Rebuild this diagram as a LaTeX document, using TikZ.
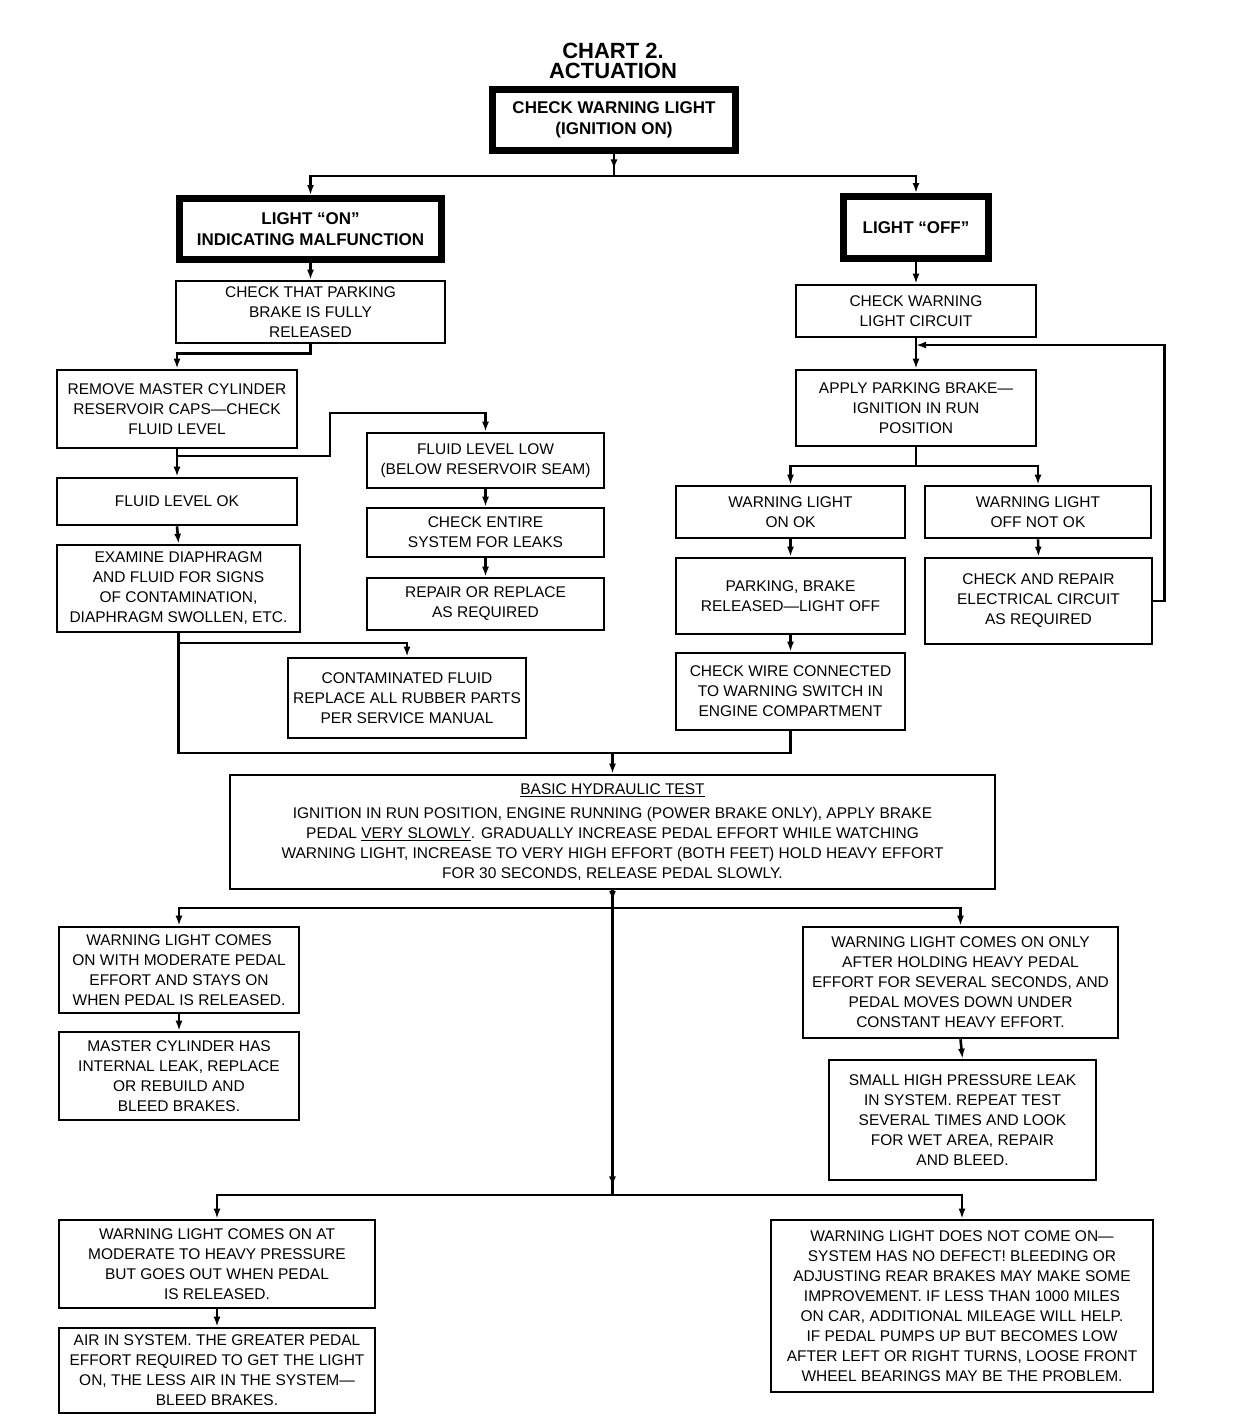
\documentclass[tikz,border=0pt]{standalone}
\usepackage{fontspec}
\setmainfont{Liberation Sans}
\usetikzlibrary{arrows.meta,decorations.markings}
\newcommand\mybox[7][thinbox]{%
  \node[#1, minimum width={(#5-#3)*1pt}, minimum height={(#6-#4)*1pt}] (#2) at ({(#3+#5)/2},{(#4+#6)/2}) {#7};}
\begin{document}
\begin{tikzpicture}[x=1pt,y=-1pt,
  thinbox/.style={draw, line width=2.6pt, inner sep=1pt, align=center, font=\fontsize{15.5}{20}\selectfont},
  thickbox/.style={draw, line width=7pt, inner sep=1pt, align=center, font=\fontsize{17}{21}\selectfont\bfseries},
  ln/.style={line width=2.6pt},
  arr/.style={line width=2.6pt, -{Latex[length=10pt,width=7pt]}},
  midarr/.style={postaction={decorate}, decoration={markings, mark=at position #1 with {\arrow{Latex[length=10pt,width=7pt]}}}},
  ttl/.style={font=\fontsize{22}{20}\selectfont\bfseries, inner sep=0pt, align=center}]
\fill[white] (0,0) rectangle (1248,1428);
\useasboundingbox (0,0) rectangle (1248,1428);

\node[ttl] (title) at (613,61) {CHART 2.\\ACTUATION};

\mybox[thickbox]{A}{492.5}{89.5}{735.5}{150.5}{CHECK WARNING LIGHT\\(IGNITION ON)}
\mybox[thickbox]{B}{179.5}{198.5}{441.5}{259.5}{LIGHT ``ON''\\INDICATING MALFUNCTION}
\mybox[thickbox]{C}{843.5}{196.5}{988.5}{258.5}{LIGHT ``OFF''}

\mybox{D}{176}{281}{445}{343}{CHECK THAT PARKING\\BRAKE IS FULLY\\RELEASED}
\mybox{E}{57}{370}{297}{448}{REMOVE MASTER CYLINDER\\RESERVOIR CAPS—CHECK\\FLUID LEVEL}
\mybox{F}{57}{478}{297}{525}{FLUID LEVEL OK}
\mybox{G}{367}{433}{604}{488}{FLUID LEVEL LOW\\(BELOW RESERVOIR SEAM)}
\mybox{H}{367}{508}{604}{557}{CHECK ENTIRE\\SYSTEM FOR LEAKS}
\mybox{I}{367}{578}{604}{630}{REPAIR OR REPLACE\\AS REQUIRED}
\mybox{J}{57}{545}{300}{632}{EXAMINE DIAPHRAGM\\AND FLUID FOR SIGNS\\OF CONTAMINATION,\\DIAPHRAGM SWOLLEN, ETC.}
\mybox{K}{288}{658}{526}{738}{CONTAMINATED FLUID\\REPLACE ALL RUBBER PARTS\\PER SERVICE MANUAL}

\mybox{L}{796}{285}{1036}{337}{CHECK WARNING\\LIGHT CIRCUIT}
\mybox{M}{796}{370}{1036}{446}{APPLY PARKING BRAKE—\\IGNITION IN RUN\\POSITION}
\mybox{N1}{676}{486}{905}{538}{WARNING LIGHT\\ON OK}
\mybox{O1}{925}{486}{1151}{538}{WARNING LIGHT\\OFF NOT OK}
\mybox{N2}{676}{558}{905}{634}{PARKING, BRAKE\\RELEASED—LIGHT OFF}
\mybox{O2}{925}{558}{1152}{644}{CHECK AND REPAIR\\ELECTRICAL CIRCUIT\\AS REQUIRED}
\mybox{N3}{676}{653}{905}{730}{CHECK WIRE CONNECTED\\TO WARNING SWITCH IN\\ENGINE COMPARTMENT}

\mybox{T}{230}{775}{995}{889}{\underline{BASIC HYDRAULIC TEST}\\[4pt]IGNITION IN RUN POSITION, ENGINE RUNNING (POWER BRAKE ONLY), APPLY BRAKE\\PEDAL \underline{VERY SLOWLY}. GRADUALLY INCREASE PEDAL EFFORT WHILE WATCHING\\WARNING LIGHT, INCREASE TO VERY HIGH EFFORT (BOTH FEET) HOLD HEAVY EFFORT\\FOR 30 SECONDS, RELEASE PEDAL SLOWLY.}

\mybox{P1}{59}{927}{299}{1013}{WARNING LIGHT COMES\\ON WITH MODERATE PEDAL\\EFFORT AND STAYS ON\\WHEN PEDAL IS RELEASED.}
\mybox{P2}{59}{1032}{299}{1120}{MASTER CYLINDER HAS\\INTERNAL LEAK, REPLACE\\OR REBUILD AND\\BLEED BRAKES.}
\mybox{Q1}{803}{927}{1118}{1038}{WARNING LIGHT COMES ON ONLY\\AFTER HOLDING HEAVY PEDAL\\EFFORT FOR SEVERAL SECONDS, AND\\PEDAL MOVES DOWN UNDER\\CONSTANT HEAVY EFFORT.}
\mybox{Q2}{829}{1060}{1096}{1180}{SMALL HIGH PRESSURE LEAK\\IN SYSTEM. REPEAT TEST\\SEVERAL TIMES AND LOOK\\FOR WET AREA, REPAIR\\AND BLEED.}
\mybox{R1}{59}{1220}{375}{1308}{WARNING LIGHT COMES ON AT\\MODERATE TO HEAVY PRESSURE\\BUT GOES OUT WHEN PEDAL\\IS RELEASED.}
\mybox{R2}{59}{1328}{375}{1413}{AIR IN SYSTEM. THE GREATER PEDAL\\EFFORT REQUIRED TO GET THE LIGHT\\ON, THE LESS AIR IN THE SYSTEM—\\BLEED BRAKES.}
\mybox{S1}{771}{1220}{1153}{1392}{WARNING LIGHT DOES NOT COME ON—\\SYSTEM HAS NO DEFECT! BLEEDING OR\\ADJUSTING REAR BRAKES MAY MAKE SOME\\IMPROVEMENT. IF LESS THAN 1000 MILES\\ON CAR, ADDITIONAL MILEAGE WILL HELP.\\IF PEDAL PUMPS UP BUT BECOMES LOW\\AFTER LEFT OR RIGHT TURNS, LOOSE FRONT\\WHEEL BEARINGS MAY BE THE PROBLEM.}

% connectors
\coordinate (a1) at (614,176);
\draw[ln, midarr=0.7] (A.south) -- (a1);
\draw[arr] (a1) -| (B.north);
\draw[arr] (a1) -| (C.north);

\draw[arr] (B.south) -- (D.north);
\draw[arr] (D.south) -- ++(0,9) -| (E.north);
\draw[arr] (E.south) -- (F.north);
\coordinate (e1) at (177,456);
\coordinate (e2) at (330,413);
\draw[arr] (e1) -| (e2) -| (G.north);
\draw[arr] (F.south) -- (J.north);
\draw[arr] (G.south) -- (H.north);
\draw[arr] (H.south) -- (I.north);

\coordinate (jm) at (612.5,753);
\coordinate (k0) at (178.5,643);
\draw[ln] (J.south) |- (jm);
\draw[arr] (k0) -| (K.north);
\draw[ln] (N3.south) |- (jm);
\draw[arr] (jm) -- (T.north);

\draw[arr] (C.south) -- (L.north);
\draw[arr] (L.south) -- (M.north);
\coordinate (fb) at (916,345);
\draw[arr] (O2.east) -- ++(11,0) |- (fb);
\coordinate (m1) at (916,466);
\draw[ln] (M.south) -- (m1);
\draw[arr] (m1) -| (N1.north);
\draw[arr] (m1) -| (O1.north);
\draw[arr] (N1.south) -- (N2.north);
\draw[arr] (N2.south) -- (N3.north);
\draw[arr] (O1.south) -- (O2.north);

\coordinate (u1) at (612.5,908);
\coordinate (u2) at (612.5,1195);
\draw[ln, midarr=0.6] (T.south) -- (u1);
\draw[arr] (u1) -| (P1.north);
\draw[arr] (u1) -| (Q1.north);
\draw[ln, midarr=0.97] (u1) -- (u2);
\draw[arr] (u2) -| (R1.north);
\draw[arr] (u2) -| (S1.north);
\draw[arr] (P1.south) -- (P2.north);
\draw[arr] (Q1.south) -- (Q2.north);
\draw[arr] (R1.south) -- (R2.north);
\end{tikzpicture}
\end{document}
